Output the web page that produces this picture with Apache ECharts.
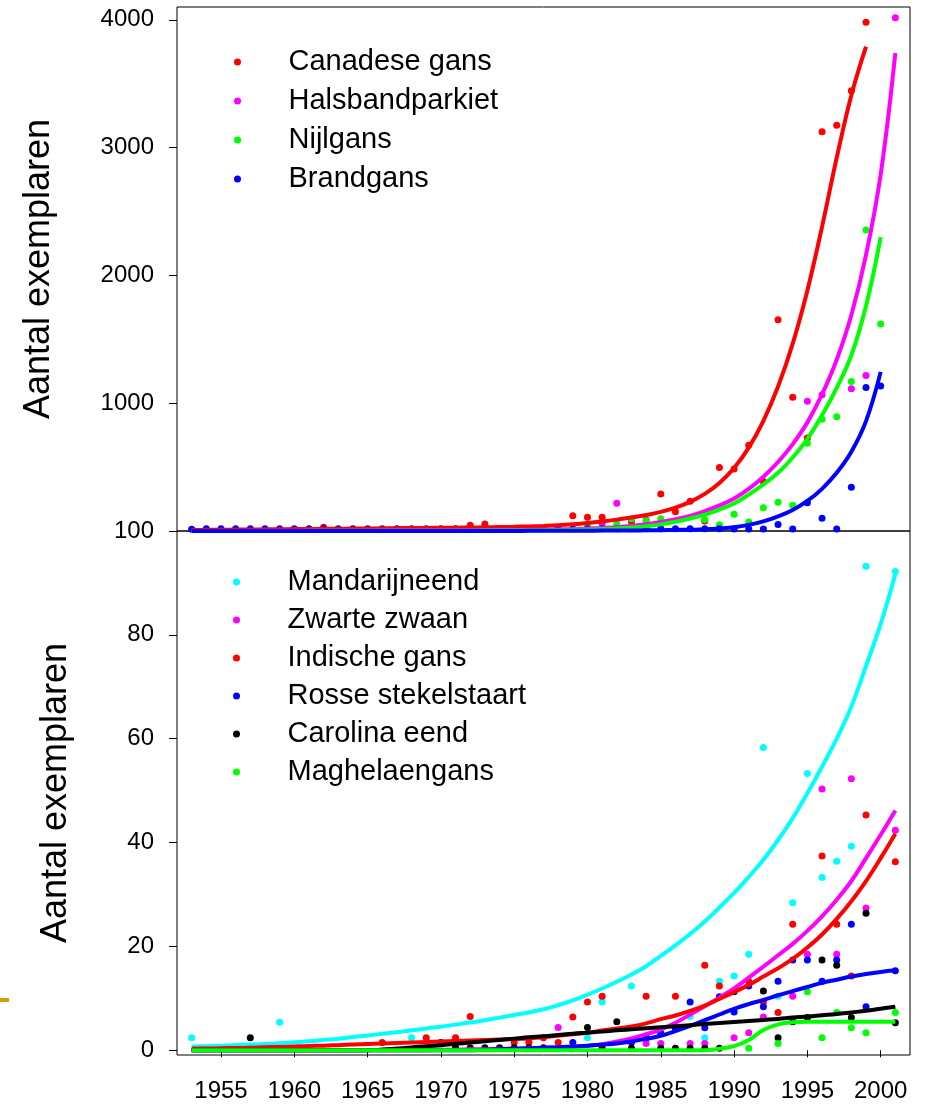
<!DOCTYPE html>
<html>
<head>
<meta charset="utf-8">
<script src="https://cdn.jsdelivr.net/npm/echarts@6/dist/echarts.min.js"></script>
<style>
html,body{margin:0;padding:0;background:#fff;}
#chart{width:925px;height:1104px;}
</style>
</head>
<body>
<div id="chart"></div>
<script>
const _ = null;
const years = [1953,1954,1955,1956,1957,1958,1959,1960,1961,1962,
               1963,1964,1965,1966,1967,1968,1969,1970,1971,1972,
               1973,1974,1975,1976,1977,1978,1979,1980,1981,1982,
               1983,1984,1985,1986,1987,1988,1989,1990,1991,1992,
               1993,1994,1995,1996,1997,1998,1999,2000,2001];
const xTicks = [1955,1960,1965,1970,1975,1980,1985,1990,1995,2000];
const topTicks = [1000,2000,3000,4000];
const bottomTicks = [0,20,40,60,80,100];
const yTitle = 'Aantal exemplaren';

// ---- top panel: observed counts ----
const topNames = ['Canadese gans','Halsbandparkiet','Nijlgans','Brandgans'];
const canadeseObs = [_,_,_,_,_,_,_,_,_,30, _,_,_,_,_,_,_,_,_,45, 55,_,_,_,_,_,120,108,108,_,
  74,87,290,150,233,79,496,486,671,387, 1652,1047,728,3123,3175,3444,3980,_,_];
const halsbandObs = [_,_,_,_,_,_,_,_,_,_, _,_,_,_,_,_,_,_,_,_, _,_,_,_,_,_,_,_,56,217,
  _,_,_,_,_,_,_,_,_,_, _,_,1016,1067,_,1114,1216,_,4015];
const nijlgansObs = [_,_,_,_,_,_,_,_,_,_, _,_,_,_,_,_,_,_,_,_, _,_,_,_,_,_,_,48,_,56,
  95,80,95,_,_,90,48,131,71,181, 225,202,687,875,893,1169,2356,1620,_];
const brandgansObs = [14,18,18,18,18,18,18,18,18,18, 18,18,18,18,18,18,18,18,18,18, 18,18,18,18,18,18,18,18,18,18,
  18,18,18,18,18,18,18,16,16,16, 50,16,222,100,16,343,1122,1135,_];
// ---- top panel: fitted curves ----
const canadeseFit = [8,9,10,11,12,13,14,15,16,17, 18,19,20,21,22,23,24,25,26,27, 29,31,33,36,40,45,53,63,75,89,
  105,125,150,183,228,290,376,493,652,862, 1130,1466,1882,2380,2920,3410,3790,_,_];
const halsbandFit = [0,0,0,0,1,1,1,1,1,2, 2,2,2,3,3,3,4,4,5,5, 6,7,8,9,10,12,15,19,24,30,
  39,52,70,92,118,155,200,255,330,425, 540,680,850,1070,1340,1690,2160,2790,3740];
const nijlgansFit = [0,0,0,0,0,0,0,0,1,1, 1,1,1,1,1,1,1,2,2,2, 3,3,4,5,6,8,10,12,15,20,
  27,38,52,72,98,128,168,215,285,365, 455,575,720,905,1120,1375,1760,2300,_];
const brandgansFit = [0,0,0,0,0,0,0,0,0,0, 0,0,0,0,0,0,0,0,0,0, 0,0,0,1,1,1,2,2,3,3,
  4,5,6,8,10,13,20,30,48,75, 115,165,235,330,455,620,860,1245,_];

// ---- bottom panel: observed counts ----
const bottomNames = ['Mandarijneend','Zwarte zwaan','Indische gans','Rosse stekelstaart','Carolina eend','Maghelaengans'];
const mandarijnObs = [2.4,_,_,_,_,_,5.4,_,_,_, _,_,_,_,_,2.4,_,_,_,_, _,_,_,_,_,_,_,2.4,9.3,_,
  12.4,_,3.3,_,6.5,2.4,13.3,14.3,18.5,58.3, 10.4,28.4,53.3,33.3,36.4,39.3,93.2,_,92.2];
const zwaanObs = [_,_,_,_,_,_,_,_,_,_, _,_,_,_,_,_,_,_,_,_, _,_,_,_,_,4.4,_,_,_,_,
  _,1.3,1.3,_,1.3,1.3,_,2.4,3.4,6.4, _,10.4,18.5,50.3,18.5,52.3,27.4,_,42.4];
const indischeObs = [_,_,_,_,_,_,_,_,_,_, _,_,_,1.5,_,_,2.4,_,2.4,6.5, _,_,1.5,1.5,2.4,1.5,6.4,9.3,10.4,_,
  _,10.4,_,10.4,_,16.4,12.4,_,13.3,9.3, 7.3,24.3,_,37.4,24.3,14.3,45.3,_,36.3];
const rosseObs = [_,_,_,_,_,_,_,_,_,_, _,_,_,_,_,_,_,_,_,_, _,_,_,_,_,_,1.5,_,_,_,
  1.5,_,3.3,4.2,9.3,4.35,10.3,7.4,12.4,8.4, 13.3,17.4,17.4,13.3,17.4,24.3,8.4,_,15.3];
const carolinaObs = [_,_,_,_,2.4,_,_,_,_,_, _,_,_,_,_,_,_,1.5,0.5,0.5, 0.5,0.5,0.5,0.5,0.5,_,_,4.4,0.4,5.5,
  0.4,2.4,0.4,0.4,0.4,0.4,0.4,11.3,_,11.4, 2.4,5.5,6.3,17.4,16.4,6.3,26.4,_,5.3];
const maghelaenObs = [_,_,_,_,_,_,_,_,_,_, _,_,_,_,_,_,_,_,_,_, _,_,_,_,_,_,_,_,_,_,
  _,_,_,_,_,_,_,_,0.4,_, 1.3,_,11.3,2.4,7.3,4.35,3.4,_,7.3];
// ---- bottom panel: fitted curves ----
const mandarijnFit = [0.7,0.8,0.9,1.0,1.1,1.2,1.35,1.55,1.75,2.0, 2.25,2.55,2.85,3.2,3.5,3.85,4.2,4.55,4.95,5.35,
  5.8,6.3,6.8,7.3,7.9,8.7,9.6,10.7,11.9,13.2, 14.6,16.2,18.2,20.2,22.4,24.8,27.5,30.3,33.4,36.7,
  40.5,44.7,49.5,54.6,60.0,66.2,74.0,82.1,91.7];
const zwaanFit = [0,0,0,0,0,0,0,0,0,0, 0,0,0,0,0,0,0,0.1,0.1,0.2, 0.2,0.3,0.3,0.4,0.5,0.6,0.7,0.85,1.15,1.7,
  2.3,3.1,4.0,5.3,6.9,8.5,10.2,11.9,14.0,16.1, 18.3,20.5,23.0,25.8,29.0,32.6,37.0,41.5,46.2];
const indischeFit = [0.3,0.35,0.4,0.45,0.5,0.6,0.65,0.75,0.85,0.9, 1.0,1.1,1.2,1.3,1.4,1.5,1.6,1.7,1.8,1.9,
  2.0,2.1,2.2,2.3,2.5,2.8,3.1,3.4,3.8,4.2, 4.6,5.2,6.0,6.7,7.6,8.6,9.9,11.2,12.6,14.2,
  15.8,17.6,19.8,22.3,25.3,28.7,32.6,37.0,41.7];
const rosseFit = [0,0,0,0,0,0,0,0,0,0, 0,0,0,0,0,0,0,0,0,0, 0.1,0.2,0.3,0.4,0.5,0.6,0.75,0.9,1.1,1.3,
  1.7,2.2,2.8,3.7,4.7,5.8,6.9,8.0,8.9,9.7, 10.6,11.4,12.2,13.0,13.6,14.2,14.7,15.1,15.4];
const carolinaFit = [0,0,0,0,0,0,0,0,0,0, 0,0,0,0.15,0.35,0.55,0.8,1.0,1.25,1.5, 1.75,2.0,2.25,2.5,2.7,2.95,3.2,3.4,3.6,3.85,
  4.05,4.25,4.45,4.65,4.85,5.05,5.25,5.45,5.65,5.85, 6.05,6.3,6.5,6.75,7.0,7.3,7.6,8.0,8.4];
const maghelaenFit = [0,0,0,0,0,0,0,0,0,0, 0,0,0,0,0,0,0,0,0,0, 0,0,0,0,0,0,0,0,0,0,
  0,0,0,0,0,0,0.3,0.8,2.0,3.9, 5.0,5.4,5.5,5.5,5.5,5.5,5.5,5.5,5.5];

const FONT = '"Liberation Sans", Arial, Helvetica, sans-serif';
function pairs(vals){ return years.map((y,i)=> vals[i]==null ? null : [y, vals[i]]).filter(d=>d); }

function obs(name, vals, color, idx){
  return {type:'scatter', name:name, xAxisIndex:idx, yAxisIndex:idx, data:pairs(vals),
    symbol:'circle', symbolSize:7, itemStyle:{color:color, opacity:1}, silent:true, animation:false};
}
function fit(name, vals, color, idx){
  return {type:'line', name:name+' (fit)', xAxisIndex:idx, yAxisIndex:idx, data:pairs(vals),
    showSymbol:false, smooth:0.4, lineStyle:{color:color, width:4, cap:'butt'},
    itemStyle:{color:color}, silent:true, animation:false};
}

const topColors = ['#ff0000','#ff00ff','#00ff00','#0000ff'];
const bottomColors = ['#00ffff','#ff00ff','#ff0000','#0000ff','#000000','#00ff00'];
const topObs = [canadeseObs, halsbandObs, nijlgansObs, brandgansObs];
const topFit = [canadeseFit, halsbandFit, nijlgansFit, brandgansFit];
const botObs = [mandarijnObs, zwaanObs, indischeObs, rosseObs, carolinaObs, maghelaenObs];
const botFit = [mandarijnFit, zwaanFit, indischeFit, rosseFit, carolinaFit, maghelaenFit];

const series = [];
topNames.forEach((n,i)=>{ series.push(obs(n, topObs[i], topColors[i], 0)); series.push(fit(n, topFit[i], topColors[i], 0)); });
bottomNames.forEach((n,i)=>{ series.push(obs(n, botObs[i], bottomColors[i], 1)); series.push(fit(n, botFit[i], bottomColors[i], 1)); });

const gridBase = {left:177, width:733, height:524, show:true, borderColor:'#000', borderWidth:1,
  backgroundColor:'transparent', containLabel:false, outerBoundsMode:'none'};
const plain = v => String(v);

function xAx(idx, showLabels){
  return {type:'value', gridIndex:idx, min:1952, max:2002,
    axisLine:{show:false}, splitLine:{show:false},
    axisTick:{show:showLabels, inside:false, length:7, customValues:xTicks, lineStyle:{color:'#000', width:1}},
    axisLabel:{show:showLabels, customValues:xTicks, formatter:plain, fontSize:24, fontFamily:FONT, color:'#000', margin:24}};
}
function yAx(idx, min, max, ticks, gap){
  return {type:'value', gridIndex:idx, min:min, max:max,
    axisLine:{show:false}, splitLine:{show:false},
    axisTick:{show:true, inside:false, length:8, customValues:ticks, lineStyle:{color:'#000', width:1}},
    axisLabel:{customValues:ticks, formatter:plain, fontSize:24, fontFamily:FONT, color:'#000', margin:23},
    name:yTitle, nameLocation:'middle', nameGap:gap, nameRotate:90,
    nameTextStyle:{fontSize:36, fontFamily:FONT, color:'#000'}};
}
function legendAt(names, left, top, lh){
  return {data:names.map(n=>({name:n, icon:'circle'})), orient:'vertical', left:left, top:top,
    itemWidth:92, itemHeight:7, itemGap:0, selectedMode:false, padding:0,
    textStyle:{fontSize:29, fontFamily:FONT, color:'#000', lineHeight:lh}};
}

const chart = echarts.init(document.getElementById('chart'), null, {renderer:'canvas', width:925, height:1104});
chart.setOption({
  backgroundColor:'#fff',
  animation:false,
  grid:[Object.assign({top:7}, gridBase), Object.assign({top:531}, gridBase)],
  xAxis:[xAx(0,false), xAx(1,true)],
  yAxis:[yAx(0,0,4100,topTicks,120), yAx(1,-0.9,100,bottomTicks,103)],
  legend:[legendAt(topNames,234,42.5,39), legendAt(bottomNames,233,563,38)],
  graphic:[{type:'rect', left:0, top:998, shape:{width:9, height:4}, style:{fill:'#d09f00'}, silent:true}],
  series:series
});
</script>
</body>
</html>
